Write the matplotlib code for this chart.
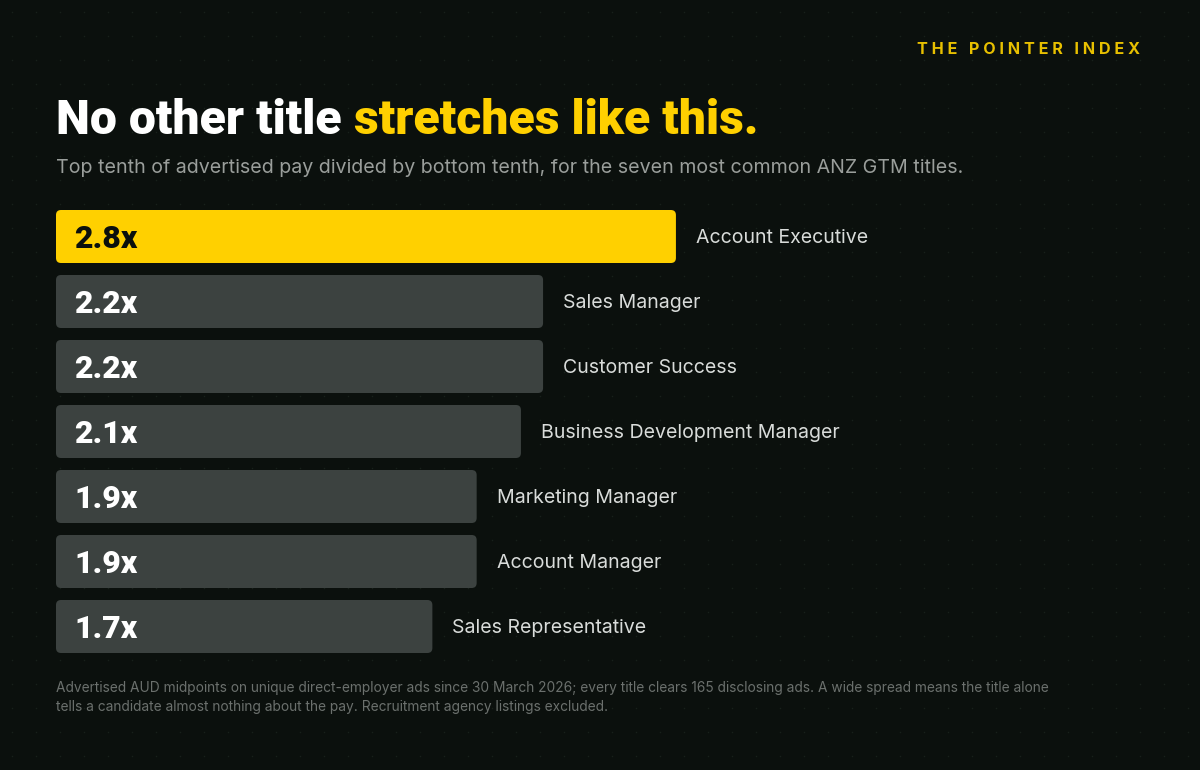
import matplotlib
matplotlib.use("Agg")
import matplotlib.pyplot as plt
from matplotlib.patches import FancyBboxPatch
import numpy as np

# ---- data ----
titles = ["Account Executive", "Sales Manager", "Customer Success",
          "Business Development Manager", "Marketing Manager",
          "Account Manager", "Sales Representative"]
ratios = [2.8, 2.2, 2.2, 2.1, 1.9, 1.9, 1.7]
value_labels = ["2.8x", "2.2x", "2.2x", "2.1x", "1.9x", "1.9x", "1.7x"]

BG = "#0b100d"
YELLOW = "#ffd000"
GREY_BAR = "#3c4240"
LABEL = "#d9dcda"
SUB = "#9a9e9b"
FOOT = "#6b706d"

W, H = 1200, 770
fig = plt.figure(figsize=(12, 7.7), dpi=100, facecolor=BG)

# background dot grid
bg = fig.add_axes([0, 0, 1, 1])
bg.set_xlim(0, W); bg.set_ylim(H, 0); bg.axis("off")
bg.set_facecolor(BG)
gx, gy = np.meshgrid(np.arange(12, W, 24), np.arange(12, H, 24))
bg.scatter(gx.ravel(), gy.ravel(), s=1.2, color="#18201b", linewidths=0)

# bar axes: x scale 221.4 px per unit, rows 65 px
px_per_unit = 221.4
row_px = 65
left_px, top_px = 56, 204
ax = fig.add_axes([left_px / W, 1 - (top_px + row_px * 7) / H,
                   3 * px_per_unit / W, row_px * 7 / H])
ax.set_xlim(0, 3)
ax.set_ylim(6.5, -0.5)
ax.axis("off")

PT = 0.72  # points per pixel at 100 dpi
bar_h = 53 / 65
r_px = 5
rounding = r_px / px_per_unit
aspect = px_per_unit / row_px
for i, (v, lab, vl) in enumerate(zip(ratios, titles, value_labels)):
    color = YELLOW if i == 0 else GREY_BAR
    p = FancyBboxPatch((0, i - bar_h / 2), v, bar_h,
                       boxstyle=f"round,pad=0,rounding_size={rounding}",
                       mutation_aspect=aspect, facecolor=color, edgecolor="none")
    ax.add_patch(p)
    ax.annotate(vl, xy=(0, i), xytext=(18 * PT, -11.5 * PT), textcoords="offset points",
                ha="left", va="baseline", fontsize=23, fontweight="black",
                family="Roboto", color=BG if i == 0 else "white")
    ax.annotate(lab, xy=(v, i), xytext=(20 * PT, -6.5 * PT), textcoords="offset points",
                ha="left", va="baseline", fontsize=14.05, family="Inter",
                color=LABEL)

# header
def fy(py):
    return 1 - py / H

fig.text(1140 / W, fy(54), "T H E   P O I N T E R   I N D E X", ha="right",
         va="baseline", fontsize=11.6, fontweight="bold", family="Inter",
         color="#e8c000")

t1 = fig.text(56 / W, fy(134), "No other title ", ha="left", va="baseline",
              fontsize=34.65, fontweight="black", family="Roboto", color="white")
fig.canvas.draw()
bb = t1.get_window_extent()
fig.text(bb.x1 / W, fy(134), "stretches like this.", ha="left", va="baseline",
         fontsize=34.65, fontweight="black", family="Roboto", color=YELLOW)

fig.text(56 / W, fy(173), "Top tenth of advertised pay divided by bottom tenth, for the seven most common ANZ GTM titles.",
         ha="left", va="baseline", fontsize=14.15, family="Inter", color=SUB)

fig.text(56 / W, fy(692), "Advertised AUD midpoints on unique direct-employer ads since 30 March 2026; every title clears 165 disclosing ads. A wide spread means the title alone",
         ha="left", va="baseline", fontsize=9.9, family="Inter", color=FOOT)
fig.text(56 / W, fy(711), "tells a candidate almost nothing about the pay. Recruitment agency listings excluded.",
         ha="left", va="baseline", fontsize=9.9, family="Inter", color=FOOT)

fig.savefig("out.png", dpi=100, facecolor=BG)
